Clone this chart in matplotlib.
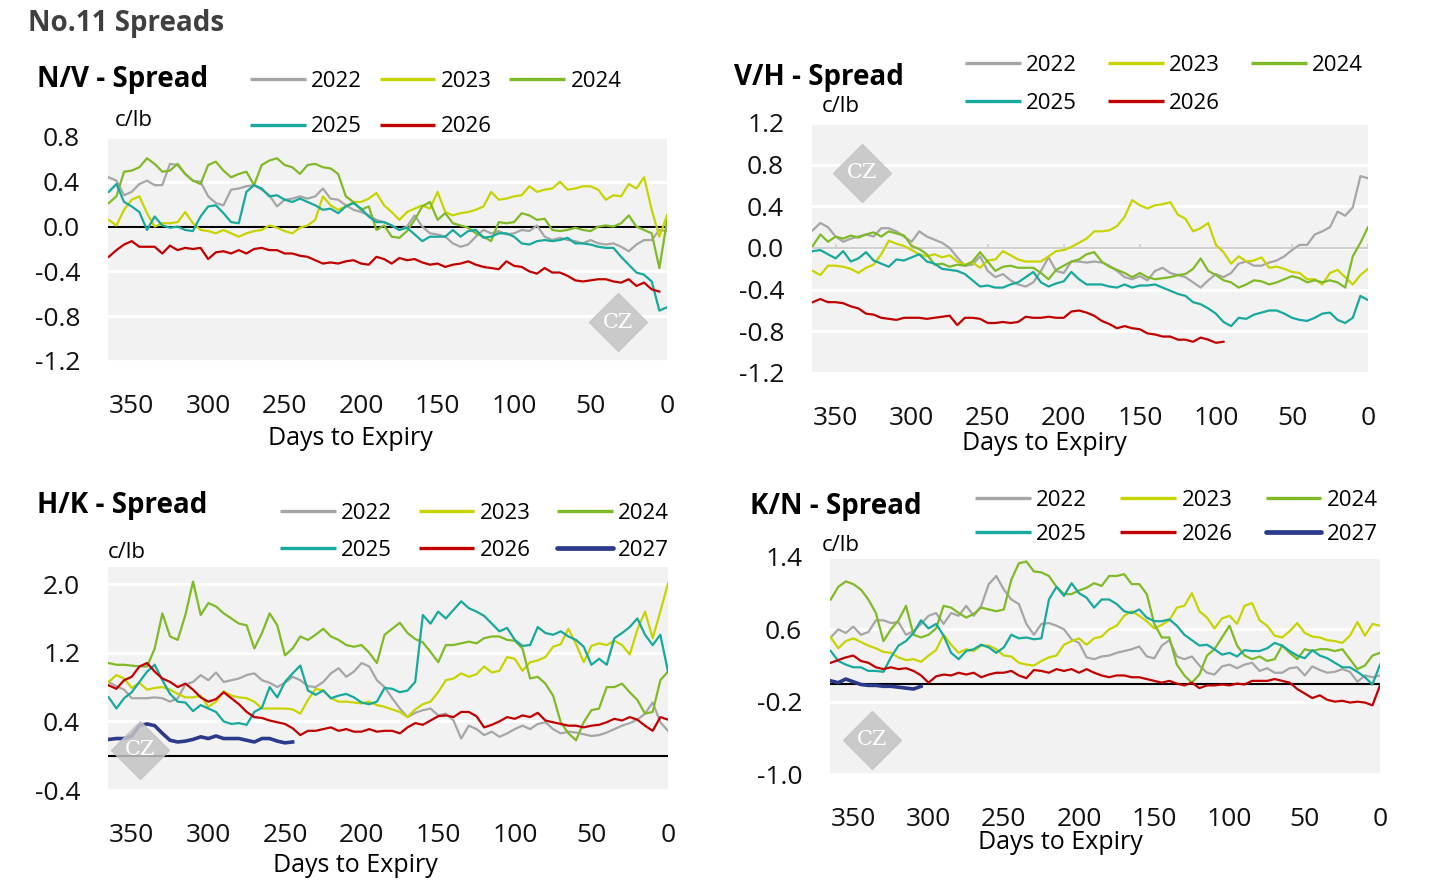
import numpy as np
import matplotlib
matplotlib.use('Agg')
import matplotlib.pyplot as plt
from matplotlib.lines import Line2D

plt.rcParams['font.family'] = ['Open Sans', 'DejaVu Sans']

# days to expiry, one reading every 5 days
days = np.arange(365, -1, -5)

# ---- N/V spread (c/lb)
nv_2022 = [0.44, 0.41, 0.28, 0.31, 0.38, 0.41, 0.37, 0.37, 0.56, 0.55,
           0.47, 0.41, 0.40, 0.27, 0.21, 0.19, 0.33, 0.34, 0.36, 0.37,
           0.33, 0.28, 0.18, 0.24, 0.25, 0.27, 0.25, 0.27, 0.34, 0.25,
           0.24, 0.19, 0.15, 0.13, 0.10, 0.06, 0.04, 0.01, -0.03, 0.00,
           0.10, 0.00, -0.06, -0.07, -0.09, -0.15, -0.18, -0.16, -0.09, -0.03,
           -0.06, -0.04, -0.07, -0.06, -0.03, -0.04, 0.01, -0.09, -0.12, -0.10,
           -0.12, -0.13, -0.15, -0.12, -0.15, -0.16, -0.15, -0.18, -0.22, -0.16,
           -0.12, -0.12, -0.03, -0.04]
nv_2023 = [0.06, 0.01, 0.15, 0.24, 0.27, 0.12, 0.00, 0.03, 0.03, 0.04,
           0.13, 0.03, -0.03, -0.04, -0.06, -0.03, -0.06, -0.09, -0.06, -0.04,
           -0.03, 0.01, -0.01, -0.04, -0.06, -0.01, 0.01, 0.06, 0.27, 0.19,
           0.15, 0.18, 0.22, 0.22, 0.25, 0.30, 0.19, 0.13, 0.06, 0.13,
           0.16, 0.19, 0.16, 0.31, 0.13, 0.10, 0.12, 0.13, 0.15, 0.18,
           0.31, 0.24, 0.25, 0.27, 0.28, 0.36, 0.31, 0.33, 0.34, 0.40,
           0.33, 0.34, 0.36, 0.36, 0.33, 0.24, 0.28, 0.27, 0.38, 0.34,
           0.44, 0.15, -0.09, 0.10]
nv_2024 = [0.21, 0.27, 0.49, 0.50, 0.53, 0.61, 0.56, 0.49, 0.50, 0.56,
           0.47, 0.41, 0.38, 0.55, 0.58, 0.50, 0.44, 0.47, 0.49, 0.37,
           0.55, 0.59, 0.61, 0.55, 0.53, 0.47, 0.55, 0.56, 0.53, 0.52,
           0.47, 0.27, 0.22, 0.15, 0.18, -0.03, 0.01, -0.09, -0.10, -0.04,
           0.06, 0.18, 0.22, 0.06, 0.12, 0.03, 0.01, -0.01, -0.06, -0.09,
           -0.13, 0.04, 0.03, 0.04, 0.12, 0.10, 0.06, 0.07, -0.03, -0.04,
           -0.03, -0.01, -0.03, -0.04, 0.00, 0.01, 0.00, 0.03, 0.10, 0.00,
           -0.03, -0.06, -0.37, 0.05]
nv_2025 = [0.31, 0.38, 0.22, 0.18, 0.13, -0.03, 0.09, 0.01, -0.01, 0.00,
           -0.03, -0.04, 0.09, 0.18, 0.19, 0.12, 0.04, 0.03, 0.31, 0.37,
           0.34, 0.27, 0.28, 0.24, 0.22, 0.25, 0.22, 0.19, 0.15, 0.16,
           0.12, 0.18, 0.21, 0.16, 0.09, 0.04, 0.04, 0.01, -0.03, -0.01,
           -0.07, -0.13, -0.09, -0.09, -0.09, -0.03, -0.09, -0.04, -0.03, -0.10,
           -0.09, -0.06, -0.06, -0.09, -0.15, -0.16, -0.13, -0.12, -0.13, -0.12,
           -0.10, -0.15, -0.15, -0.16, -0.18, -0.19, -0.19, -0.27, -0.34, -0.41,
           -0.43, -0.49, -0.75, -0.72]
nv_2026 = [-0.27, -0.21, -0.16, -0.13, -0.18, -0.18, -0.18, -0.24, -0.17, -0.21,
           -0.19, -0.20, -0.19, -0.29, -0.23, -0.22, -0.24, -0.21, -0.24, -0.20,
           -0.19, -0.21, -0.21, -0.24, -0.24, -0.26, -0.27, -0.30, -0.33, -0.32,
           -0.33, -0.31, -0.30, -0.33, -0.34, -0.27, -0.29, -0.33, -0.28, -0.30,
           -0.29, -0.32, -0.34, -0.33, -0.36, -0.34, -0.33, -0.31, -0.34, -0.36,
           -0.37, -0.38, -0.31, -0.35, -0.36, -0.40, -0.42, -0.37, -0.41, -0.41,
           -0.44, -0.48, -0.49, -0.48, -0.47, -0.47, -0.49, -0.50, -0.47, -0.53,
           -0.50, -0.56, -0.58]

# ---- V/H spread (c/lb)
vh_2022 = [0.17, 0.24, 0.20, 0.11, 0.06, 0.09, 0.11, 0.13, 0.11, 0.19,
           0.19, 0.16, 0.11, 0.06, 0.16, 0.11, 0.08, 0.05, 0.00, -0.09,
           -0.17, -0.16, -0.08, -0.22, -0.28, -0.25, -0.31, -0.35, -0.37, -0.33,
           -0.22, -0.09, -0.22, -0.24, -0.13, -0.13, -0.14, -0.13, -0.14, -0.17,
           -0.22, -0.28, -0.30, -0.27, -0.31, -0.22, -0.19, -0.24, -0.26, -0.28,
           -0.33, -0.38, -0.31, -0.25, -0.28, -0.24, -0.15, -0.13, -0.17, -0.17,
           -0.14, -0.12, -0.08, -0.02, 0.03, 0.03, 0.13, 0.16, 0.20, 0.35,
           0.31, 0.39, 0.69, 0.67]
vh_2023 = [-0.22, -0.26, -0.17, -0.17, -0.18, -0.20, -0.24, -0.19, -0.16, -0.06,
           0.07, 0.04, 0.02, -0.02, -0.06, -0.08, -0.06, -0.09, -0.07, -0.13,
           -0.16, -0.14, -0.19, -0.12, -0.11, -0.03, -0.07, -0.11, -0.13, -0.13,
           -0.13, -0.08, -0.03, -0.02, 0.01, 0.05, 0.09, 0.16, 0.16, 0.17,
           0.21, 0.30, 0.46, 0.41, 0.38, 0.41, 0.42, 0.44, 0.32, 0.28,
           0.16, 0.19, 0.24, 0.03, -0.04, -0.15, -0.08, -0.13, -0.12, -0.09,
           -0.19, -0.18, -0.20, -0.23, -0.24, -0.30, -0.30, -0.35, -0.24, -0.21,
           -0.28, -0.35, -0.26, -0.20]
vh_2024 = [0.02, 0.13, 0.06, 0.11, 0.09, 0.12, 0.10, 0.13, 0.15, 0.11,
           0.16, 0.14, 0.12, 0.02, -0.01, -0.06, -0.16, -0.15, -0.18, -0.16,
           -0.17, -0.13, -0.04, -0.13, -0.22, -0.18, -0.17, -0.19, -0.19, -0.19,
           -0.24, -0.30, -0.21, -0.17, -0.13, -0.11, -0.06, -0.04, -0.13, -0.18,
           -0.21, -0.24, -0.28, -0.24, -0.28, -0.30, -0.29, -0.28, -0.26, -0.25,
           -0.20, -0.10, -0.22, -0.26, -0.31, -0.33, -0.38, -0.35, -0.31, -0.32,
           -0.35, -0.33, -0.30, -0.27, -0.29, -0.33, -0.31, -0.33, -0.31, -0.33,
           -0.38, -0.08, 0.05, 0.20]
vh_2025 = [-0.03, -0.02, -0.06, -0.10, -0.03, -0.13, -0.10, -0.04, -0.12, -0.15,
           -0.18, -0.11, -0.12, -0.09, -0.06, -0.13, -0.15, -0.20, -0.21, -0.22,
           -0.25, -0.31, -0.37, -0.36, -0.38, -0.38, -0.35, -0.33, -0.28, -0.23,
           -0.33, -0.37, -0.34, -0.32, -0.23, -0.30, -0.35, -0.35, -0.35, -0.37,
           -0.38, -0.35, -0.38, -0.36, -0.36, -0.35, -0.38, -0.41, -0.44, -0.46,
           -0.52, -0.54, -0.58, -0.63, -0.71, -0.75, -0.67, -0.68, -0.64, -0.62,
           -0.60, -0.60, -0.63, -0.67, -0.69, -0.70, -0.67, -0.63, -0.62, -0.69,
           -0.72, -0.67, -0.46, -0.50]
vh_2026 = [-0.52, -0.49, -0.52, -0.52, -0.53, -0.56, -0.58, -0.63, -0.64, -0.67,
           -0.68, -0.69, -0.67, -0.67, -0.67, -0.68, -0.67, -0.66, -0.65, -0.74,
           -0.67, -0.67, -0.68, -0.72, -0.72, -0.71, -0.72, -0.71, -0.66, -0.67,
           -0.67, -0.66, -0.67, -0.67, -0.61, -0.60, -0.62, -0.65, -0.70, -0.73,
           -0.77, -0.75, -0.77, -0.78, -0.82, -0.83, -0.85, -0.85, -0.88, -0.88,
           -0.90, -0.86, -0.88, -0.91, -0.90]

# ---- H/K spread (c/lb)
hk_2022 = [0.86, 0.81, 0.77, 0.67, 0.67, 0.67, 0.68, 0.67, 0.63, 0.67,
           0.83, 0.86, 0.94, 0.88, 0.97, 0.86, 0.88, 0.90, 0.94, 0.96,
           0.88, 0.85, 0.80, 0.85, 0.92, 0.88, 0.81, 0.80, 0.86, 0.96,
           1.02, 0.92, 0.98, 1.08, 1.04, 0.88, 0.80, 0.67, 0.55, 0.45,
           0.50, 0.53, 0.55, 0.47, 0.49, 0.41, 0.20, 0.35, 0.31, 0.24,
           0.28, 0.22, 0.26, 0.31, 0.35, 0.31, 0.37, 0.39, 0.31, 0.26,
           0.28, 0.27, 0.25, 0.23, 0.24, 0.27, 0.31, 0.35, 0.38, 0.42,
           0.49, 0.62, 0.39, 0.29]
hk_2023 = [0.86, 0.94, 0.90, 0.79, 0.85, 0.77, 0.79, 0.80, 0.77, 0.72,
           0.68, 0.68, 0.70, 0.57, 0.63, 0.75, 0.70, 0.68, 0.67, 0.63,
           0.55, 0.55, 0.55, 0.55, 0.54, 0.49, 0.65, 0.78, 0.76, 0.67,
           0.63, 0.63, 0.62, 0.61, 0.63, 0.59, 0.57, 0.54, 0.51, 0.45,
           0.54, 0.60, 0.63, 0.74, 0.88, 0.90, 0.96, 0.92, 0.95, 1.04,
           0.97, 0.99, 1.15, 1.13, 0.99, 1.09, 1.11, 1.15, 1.27, 1.30,
           1.48, 1.30, 1.09, 1.28, 1.31, 1.29, 1.34, 1.29, 1.18, 1.47,
           1.68, 1.37, 1.68, 2.01]
hk_2024 = [1.08, 1.06, 1.06, 1.05, 1.04, 1.04, 1.25, 1.66, 1.39, 1.35,
           1.64, 2.03, 1.64, 1.78, 1.74, 1.66, 1.60, 1.54, 1.52, 1.25,
           1.43, 1.66, 1.52, 1.17, 1.25, 1.39, 1.35, 1.41, 1.48, 1.39,
           1.35, 1.29, 1.27, 1.29, 1.20, 1.08, 1.41, 1.48, 1.55, 1.43,
           1.36, 1.32, 1.21, 1.09, 1.29, 1.29, 1.31, 1.33, 1.31, 1.37,
           1.39, 1.39, 1.35, 1.34, 1.25, 0.90, 0.92, 0.84, 0.70, 0.39,
           0.26, 0.18, 0.39, 0.53, 0.55, 0.80, 0.80, 0.84, 0.74, 0.65,
           0.49, 0.51, 0.88, 0.98]
hk_2025 = [0.68, 0.55, 0.67, 0.74, 0.86, 0.98, 1.06, 0.88, 0.72, 0.63,
           0.62, 0.52, 0.59, 0.55, 0.51, 0.40, 0.37, 0.38, 0.36, 0.51,
           0.56, 0.80, 0.68, 0.86, 0.96, 1.05, 0.76, 0.71, 0.76, 0.67,
           0.70, 0.72, 0.68, 0.62, 0.60, 0.63, 0.79, 0.78, 0.74, 0.76,
           0.86, 1.64, 1.54, 1.68, 1.60, 1.70, 1.80, 1.72, 1.68, 1.63,
           1.54, 1.45, 1.49, 1.35, 1.28, 1.29, 1.50, 1.43, 1.41, 1.45,
           1.39, 1.35, 1.27, 1.06, 1.13, 1.06, 1.37, 1.43, 1.50, 1.60,
           1.41, 1.29, 1.41, 0.98]
hk_2026 = [0.82, 0.78, 0.88, 0.92, 1.04, 1.08, 0.98, 0.90, 0.86, 0.80,
           0.84, 0.77, 0.68, 0.63, 0.66, 0.74, 0.67, 0.60, 0.51, 0.45,
           0.44, 0.41, 0.39, 0.37, 0.32, 0.24, 0.29, 0.29, 0.31, 0.33,
           0.29, 0.31, 0.28, 0.28, 0.31, 0.28, 0.29, 0.29, 0.26, 0.33,
           0.38, 0.36, 0.41, 0.46, 0.47, 0.45, 0.51, 0.51, 0.46, 0.33,
           0.36, 0.40, 0.45, 0.43, 0.47, 0.45, 0.50, 0.41, 0.39, 0.37,
           0.35, 0.35, 0.33, 0.35, 0.36, 0.39, 0.43, 0.41, 0.45, 0.42,
           0.35, 0.29, 0.45, 0.42]
hk_2027 = [0.19, 0.20, 0.20, 0.23, 0.35, 0.37, 0.35, 0.26, 0.18, 0.16,
           0.17, 0.19, 0.22, 0.20, 0.23, 0.20, 0.20, 0.20, 0.18, 0.16,
           0.20, 0.20, 0.17, 0.15, 0.16]

# ---- K/N spread (c/lb)
kn_2022 = [0.51, 0.60, 0.56, 0.63, 0.54, 0.57, 0.70, 0.70, 0.67, 0.68,
           0.54, 0.58, 0.66, 0.75, 0.78, 0.66, 0.78, 0.75, 0.86, 0.75,
           0.86, 1.10, 1.19, 1.04, 0.93, 0.88, 0.66, 0.54, 0.66, 0.67,
           0.64, 0.60, 0.49, 0.45, 0.29, 0.27, 0.30, 0.31, 0.34, 0.36,
           0.38, 0.41, 0.30, 0.28, 0.42, 0.48, 0.30, 0.27, 0.30, 0.20,
           0.12, 0.10, 0.19, 0.21, 0.17, 0.21, 0.23, 0.14, 0.17, 0.12,
           0.12, 0.17, 0.18, 0.09, 0.19, 0.15, 0.12, 0.13, 0.16, 0.13,
           0.02, 0.09, 0.07, 0.09]
kn_2023 = [0.51, 0.39, 0.47, 0.50, 0.46, 0.42, 0.39, 0.35, 0.34, 0.29,
           0.26, 0.27, 0.24, 0.31, 0.37, 0.54, 0.43, 0.34, 0.38, 0.36,
           0.42, 0.42, 0.38, 0.31, 0.30, 0.23, 0.21, 0.20, 0.25, 0.29,
           0.31, 0.43, 0.47, 0.50, 0.43, 0.50, 0.52, 0.60, 0.64, 0.75,
           0.80, 0.75, 0.69, 0.61, 0.65, 0.70, 0.84, 0.86, 1.00, 0.80,
           0.73, 0.61, 0.72, 0.75, 0.66, 0.86, 0.89, 0.70, 0.64, 0.53,
           0.51, 0.58, 0.67, 0.56, 0.52, 0.51, 0.48, 0.47, 0.45, 0.53,
           0.68, 0.53, 0.66, 0.64]
kn_2024 = [0.93, 1.07, 1.13, 1.10, 1.04, 0.93, 0.78, 0.47, 0.60, 0.70,
           0.86, 0.54, 0.51, 0.54, 0.61, 0.86, 0.84, 0.78, 0.73, 0.77,
           0.84, 0.82, 0.80, 0.82, 1.15, 1.33, 1.35, 1.24, 1.23, 1.19,
           1.07, 0.99, 0.99, 1.03, 1.06, 1.11, 1.08, 1.19, 1.19, 1.21,
           1.10, 1.10, 0.99, 0.66, 0.51, 0.51, 0.21, 0.09, 0.01, 0.10,
           0.31, 0.38, 0.51, 0.64, 0.42, 0.31, 0.27, 0.30, 0.25, 0.27,
           0.42, 0.34, 0.27, 0.38, 0.36, 0.38, 0.38, 0.36, 0.38, 0.27,
           0.16, 0.20, 0.31, 0.34]
kn_2025 = [0.36, 0.25, 0.21, 0.18, 0.18, 0.14, 0.14, 0.13, 0.29, 0.42,
           0.47, 0.56, 0.70, 0.61, 0.66, 0.53, 0.34, 0.27, 0.36, 0.38,
           0.43, 0.40, 0.34, 0.40, 0.54, 0.50, 0.51, 0.49, 0.50, 0.93,
           1.07, 0.97, 1.11, 1.00, 0.95, 0.84, 0.93, 0.93, 0.88, 0.80,
           0.78, 0.82, 0.73, 0.69, 0.69, 0.71, 0.64, 0.54, 0.48, 0.42,
           0.43, 0.38, 0.32, 0.34, 0.30, 0.37, 0.36, 0.36, 0.39, 0.45,
           0.42, 0.36, 0.31, 0.28, 0.37, 0.31, 0.28, 0.23, 0.18, 0.18,
           0.13, 0.07, -0.01, 0.21]
kn_2026 = [0.23, 0.26, 0.29, 0.31, 0.25, 0.23, 0.18, 0.16, 0.18, 0.16,
           0.17, 0.14, 0.09, 0.01, 0.08, 0.10, 0.09, 0.12, 0.10, 0.12,
           0.07, 0.10, 0.12, 0.12, 0.14, 0.09, 0.06, 0.15, 0.14, 0.12,
           0.16, 0.14, 0.16, 0.12, 0.16, 0.12, 0.09, 0.07, 0.09, 0.09,
           0.07, 0.07, 0.05, 0.03, 0.01, 0.03, 0.00, -0.02, 0.01, -0.05,
           -0.02, -0.02, -0.01, -0.02, 0.00, -0.01, 0.03, 0.03, 0.03, 0.05,
           0.03, 0.01, -0.06, -0.11, -0.16, -0.13, -0.18, -0.20, -0.19, -0.21,
           -0.20, -0.21, -0.24, -0.02]
kn_2027 = [0.03, 0.01, 0.05, 0.02, -0.01, -0.02, -0.02, -0.03, -0.03, -0.04,
           -0.05, -0.06, -0.03]

years = ['2022', '2023', '2024', '2025', '2026', '2027']
colors = {'2022': '#a6a6a6', '2023': '#c8d400', '2024': '#7fba27',
          '2025': '#17a89e', '2026': '#c00000', '2027': '#2b3a8a'}
x_ticks = [350, 300, 250, 200, 150, 100, 50, 0]

W, H = 1434, 896
fx = lambda x: x / W
fy = lambda y: 1 - y / H

fig = plt.figure(figsize=(W / 100, H / 100), dpi=100)
fig.text(fx(28), fy(24), 'No.11 Spreads', fontsize=20, fontweight='bold',
         color='#3f3f3f', va='center', ha='left')

panels = [
    dict(title='N/V - Spread', rect=(108, 137, 667, 361),
         series={'2022': nv_2022, '2023': nv_2023, '2024': nv_2024,
                 '2025': nv_2025, '2026': nv_2026},
         ylim=(-1.2, 0.8), yticks=[0.8, 0.4, 0.0, -0.4, -0.8, -1.2], zero='black',
         title_xy=(37, 80), unit_xy=(115, 120), xlabel_xy=(350, 438),
         leg_xy=(250, 104), colsp=0.79, rowsp=1.12, wm=(0.912, 0.174)),
    dict(title='V/H - Spread', rect=(812, 123, 1368, 373),
         series={'2022': vh_2022, '2023': vh_2023, '2024': vh_2024,
                 '2025': vh_2025, '2026': vh_2026},
         ylim=(-1.2, 1.2), yticks=[1.2, 0.8, 0.4, 0.0, -0.4, -0.8, -1.2], zero='#d0d0d0',
         title_xy=(734, 77), unit_xy=(822, 107), xlabel_xy=(1044, 443),
         leg_xy=(965, 84.5), colsp=1.39, rowsp=0.78, wm=(0.09, 0.80)),
    dict(title='H/K - Spread', rect=(108, 567, 668, 790),
         series={'2022': hk_2022, '2023': hk_2023, '2024': hk_2024,
                 '2025': hk_2025, '2026': hk_2026, '2027': hk_2027},
         ylim=(-0.4, 2.2), yticks=[2.0, 1.2, 0.4, -0.4], zero='black',
         title_xy=(37, 505), unit_xy=(108, 552), xlabel_xy=(355, 865),
         leg_xy=(280, 532), colsp=1.19, rowsp=0.73, wm=(0.057, 0.18)),
    dict(title='K/N - Spread', rect=(830, 557, 1380, 774),
         series={'2022': kn_2022, '2023': kn_2023, '2024': kn_2024,
                 '2025': kn_2025, '2026': kn_2026, '2027': kn_2027},
         ylim=(-1.0, 1.4), yticks=[1.4, 0.6, -0.2, -1.0], zero='black',
         title_xy=(750, 506), unit_xy=(822, 545), xlabel_xy=(1060, 842),
         leg_xy=(975, 517.5), colsp=1.5, rowsp=0.6, wm=(0.076, 0.157)),
]

for p in panels:
    x0, y0, x1, y1 = p['rect']
    ax = fig.add_axes([fx(x0), fy(y1), (x1 - x0) / W, (y1 - y0) / H])
    ax.set_facecolor('#f2f2f2')
    for s in ax.spines.values():
        s.set_visible(False)
    ax.set_xlim(365.5, 0)
    ax.set_ylim(*p['ylim'])
    ax.set_yticks(p['yticks'])
    ax.set_yticklabels([f'{t:.1f}' for t in p['yticks']])
    ax.set_xticks(x_ticks)
    ax.tick_params(axis='both', length=0, labelsize=19, colors='#111111')
    ax.tick_params(axis='y', pad=20)
    ax.tick_params(axis='x', pad=24)
    ax.yaxis.grid(True, color='white', lw=2)
    ax.set_axisbelow(True)
    ax.axhline(0, color=p['zero'], lw=1.5, zorder=1.5)
    if p['zero'] != 'black':
        ax.vlines(x_ticks, 0, 0.04, color=p['zero'], lw=1.2, zorder=1.5)

    handles = []
    for yr, vals in p['series'].items():
        lw = 2.6 if yr == '2027' else 1.6
        ax.plot(days[:len(vals)], vals, color=colors[yr], lw=lw, zorder=3,
                solid_joinstyle='round')
        handles.append(Line2D([], [], color=colors[yr],
                              lw=3.4 if yr == '2027' else 2.4, label=yr,
                              solid_capstyle='round' if yr == '2027' else 'butt'))

    # watermark
    wx, wy = p['wm']
    ax.plot([wx], [wy], marker='D', ms=30, color='#c4c4c4', alpha=0.85,
            transform=ax.transAxes, zorder=5, clip_on=False)
    ax.text(wx, wy, 'CZ', transform=ax.transAxes, ha='center', va='center',
            fontsize=15, color='white', family='DejaVu Serif', zorder=6)

    # legend, filled row by row in 3 columns
    order = [i for i in [0, 3, 1, 4, 2, 5] if i < len(handles)]
    fig.legend([handles[i] for i in order], [handles[i].get_label() for i in order],
               loc='center left', bbox_to_anchor=(fx(p['leg_xy'][0]), fy(p['leg_xy'][1])),
               ncol=3, frameon=False, fontsize=16, handlelength=2.5,
               handletextpad=0.25, columnspacing=p['colsp'],
               labelspacing=p['rowsp'], borderpad=0, borderaxespad=0)

    fig.text(fx(p['title_xy'][0]), fy(p['title_xy'][1]), p['title'], fontsize=20,
             fontweight='bold', va='center', ha='left')
    fig.text(fx(p['unit_xy'][0]), fy(p['unit_xy'][1]), 'c/lb', fontsize=16,
             va='center', ha='left')
    fig.text(fx(p['xlabel_xy'][0]), fy(p['xlabel_xy'][1]), 'Days to Expiry',
             fontsize=18, va='center', ha='center')

fig.savefig('out.png', dpi=100)
